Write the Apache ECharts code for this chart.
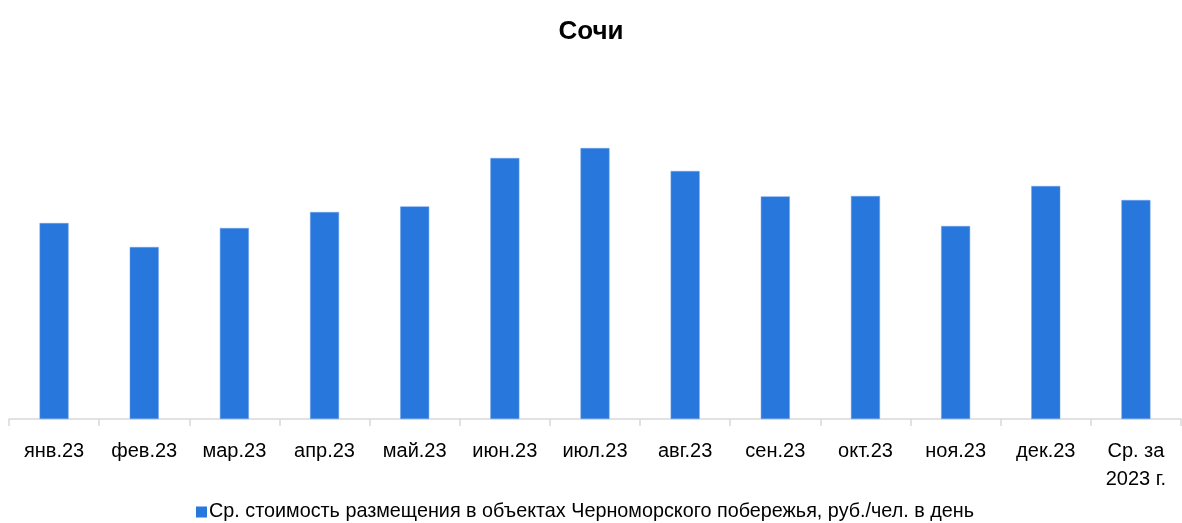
<!DOCTYPE html>
<html>
<head>
<meta charset="utf-8">
<script src="https://cdn.jsdelivr.net/npm/echarts@6/dist/echarts.min.js"></script>
<style>
  html, body { margin: 0; padding: 0; background: #fff; }
  #chart { width: 1182px; height: 523px; }
</style>
</head>
<body>
<div id="chart"></div>
<script>
// подписи месяцев
const categories = ['янв.23', 'фев.23', 'мар.23', 'апр.23', 'май.23', 'июн.23', 'июл.23',
  'авг.23', 'сен.23', 'окт.23', 'ноя.23', 'дек.23', 'Ср. за\n2023 г.']
// ср. стоимость, руб./чел. в день (оценка по картинке)
const values = [4900, 4300, 4775, 5175, 5315, 6525, 6775, 6200, 5565, 5575, 4825, 5825, 5475]
const seriesName = 'Ср. стоимость размещения в объектах Черноморского побережья, руб./чел. в день'

const chart = echarts.init(document.getElementById('chart'))
const font = '"Liberation Sans", Arial, sans-serif'

const options = {
  animation: false,
  title: {
    text: 'Сочи',
    left: 'center',
    top: 14,
    textStyle: {
      fontFamily: font,
      fontSize: 26,
      fontWeight: 'bold',
      color: '#000',
    },
  },
  legend: {
    top: 497,
    left: 191,
    icon: 'rect',
    itemWidth: 11,
    itemHeight: 11,
    itemGap: 4,
    itemStyle: { borderWidth: 0 },
    textStyle: {
      fontFamily: font,
      fontSize: 19.8,
      color: '#000',
      padding: [0, 0, 0, -3],
    },
    data: [seriesName],
  },
  grid: {
    left: 9,
    right: 1,
    top: 119,
    bottom: 104,
  },
  xAxis: {
    type: 'category',
    data: categories,
    axisLine: {
      lineStyle: { color: '#d9d9d9', width: 1.5 },
    },
    axisTick: {
      show: true,
      length: 7,
      lineStyle: { color: '#d9d9d9', width: 1.5 },
    },
    axisLabel: {
      interval: 0,
      margin: 18,
      fontFamily: font,
      fontSize: 20,
      color: '#000',
      lineHeight: 28,
    },
  },
  yAxis: {
    type: 'value',
    min: 0,
    max: 7500,
    show: false,
    splitLine: { show: false },
  },
  series: [
    {
      name: seriesName,
      type: 'bar',
      barWidth: 29,
      itemStyle: {
        color: '#2877dd',
        borderColor: '#6fa0e8',
        borderWidth: 0.5,
      },
      data: values,
    },
  ],
}

chart.setOption(options)
</script>
</body>
</html>
